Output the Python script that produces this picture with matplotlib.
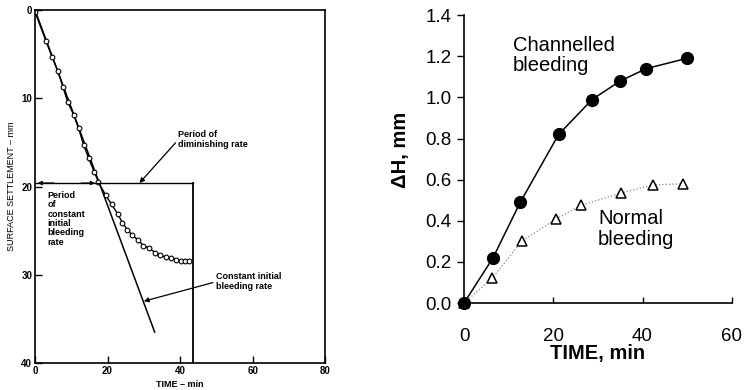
import matplotlib.pyplot as plt

# Left chart: surface settlement vs time
t_obs = [0, 3.0, 4.7, 6.3, 7.7, 9.0, 10.7, 12.0, 13.4, 14.8, 16.4, 17.5, 19.5,
         21.1, 22.8, 24.1, 25.5, 26.8, 28.5, 29.9, 31.5, 33.2, 34.5, 36.2,
         37.5, 38.9, 40.3, 41.3, 42.5]
s_obs = [0.2, 3.5, 5.3, 6.9, 8.7, 10.4, 11.9, 13.4, 15.3, 16.8, 18.4, 19.5, 21.0,
         22.0, 23.1, 24.1, 24.9, 25.5, 26.1, 26.7, 27.0, 27.5, 27.8, 28.0,
         28.1, 28.3, 28.4, 28.4, 28.4]
t_line = [0, 33]
s_line = [0, 36.5]
t_end = 43.6
s_break = 19.6

# Right chart: delta H vs time
t_chan = [0, 6.5, 12.6, 21.2, 28.7, 35.0, 40.8, 49.9]
h_chan = [0, 0.22, 0.49, 0.82, 0.99, 1.08, 1.14, 1.19]
t_norm = [0, 6.3, 12.9, 20.7, 26.2, 35.2, 42.4, 49.0]
h_norm = [0, 0.12, 0.30, 0.41, 0.475, 0.535, 0.575, 0.58]

plt.rcParams['font.family'] = ['Liberation Sans', 'DejaVu Sans']

fig = plt.figure(figsize=(7.46, 3.90), dpi=100)

ax1 = fig.add_axes([0.0469, 0.0692, 0.389, 0.905])
ax1.plot(t_line, s_line, color='black', lw=1.1)
ax1.plot(t_obs, s_obs, color='black', lw=1.0, marker='o', ms=3.4,
         mfc='white', mec='black', mew=0.8)
ax1.plot([0, t_end], [s_break, s_break], color='black', lw=1.0)
ax1.plot([t_end, t_end], [s_break, 40], color='black', lw=1.3)
ax1.set_xlim(0, 80)
ax1.set_ylim(40, 0)
ax1.set_xticks([0, 20, 40, 60, 80])
ax1.set_yticks([0, 10, 20, 30, 40])
ax1.tick_params(direction='in', length=5, width=1, labelsize=7, pad=2)
for lab in ax1.get_xticklabels() + ax1.get_yticklabels():
    lab.set_fontweight('bold')
for sp in ax1.spines.values():
    sp.set_linewidth(1.2)
ax1.set_xlabel('TIME \u2013 min', fontsize=6.5, fontweight='bold', labelpad=3)
ax1.set_ylabel('SURFACE SETTLEMENT \u2013 mm', fontsize=6.5, labelpad=4)

# arrows along the break line
ax1.annotate('', xy=(0, s_break), xytext=(6, s_break),
             arrowprops=dict(arrowstyle='-|>', color='black', lw=0.8, mutation_scale=6))
ax1.annotate('', xy=(17.3, s_break), xytext=(12, s_break),
             arrowprops=dict(arrowstyle='-|>', color='black', lw=0.8, mutation_scale=6))

ax1.text(3.5, 20.5, 'Period\nof\nconstant\ninitial\nbleeding\nrate', fontsize=6.5,
         fontweight='bold', va='top', ha='left', linespacing=1.05)
ax1.annotate('Period of\ndiminishing rate', xy=(28.8, s_break), xytext=(39.5, 14.7),
             fontsize=6.5, fontweight='bold', va='center', ha='left', linespacing=1.1,
             arrowprops=dict(arrowstyle='-|>', color='black', lw=0.9, mutation_scale=7,
                             shrinkA=0, shrinkB=0, relpos=(0, 0.5)))
ax1.annotate('Constant initial\nbleeding rate', xy=(30.0, 33.0), xytext=(49.8, 30.8),
             fontsize=6.5, fontweight='bold', va='center', ha='left', linespacing=1.1,
             arrowprops=dict(arrowstyle='-|>', color='black', lw=0.9, mutation_scale=7,
                             shrinkA=0, shrinkB=0, relpos=(0, 0.5)))

ax2 = fig.add_axes([0.622, 0.223, 0.359, 0.738])
ax2.plot(t_norm, h_norm, color='#888888', lw=0.9, ls=':', marker='^', ms=7,
         mfc='white', mec='black', mew=1.1, clip_on=False, zorder=3)
ax2.plot(t_chan, h_chan, color='black', lw=1.1, marker='o', ms=8.5,
         mfc='black', mec='black', clip_on=False, zorder=4)
ax2.set_xlim(0, 60)
ax2.set_ylim(0, 1.4)
ax2.set_xticks([0, 20, 40, 60])
ax2.set_yticks([0, 0.2, 0.4, 0.6, 0.8, 1.0, 1.2, 1.4])
ax2.set_yticklabels(['0.0', '0.2', '0.4', '0.6', '0.8', '1.0', '1.2', '1.4'])
ax2.spines['top'].set_visible(False)
ax2.spines['right'].set_visible(False)
ax2.spines['left'].set_linewidth(1.2)
ax2.spines['bottom'].set_linewidth(1.2)
ax2.tick_params(axis='y', direction='out', length=5, width=1, labelsize=13.5, pad=4)
ax2.tick_params(axis='x', direction='in', length=4, width=1, labelsize=13.5, pad=18)
ax2.set_xlabel('TIME, min', fontsize=14.5, fontweight='bold', labelpad=-1)
ax2.set_ylabel('\u0394H, mm', fontsize=14.5, fontweight='bold')
ax2.yaxis.set_label_coords(-0.20, 0.531)

ax2.text(11, 1.30, 'Channelled\nbleeding', fontsize=14.5, va='top', ha='left',
         linespacing=1.1)
ax2.text(30, 0.455, 'Normal\nbleeding', fontsize=14.5, va='top', ha='left',
         linespacing=1.1)

fig.savefig('out.png', dpi=100)
